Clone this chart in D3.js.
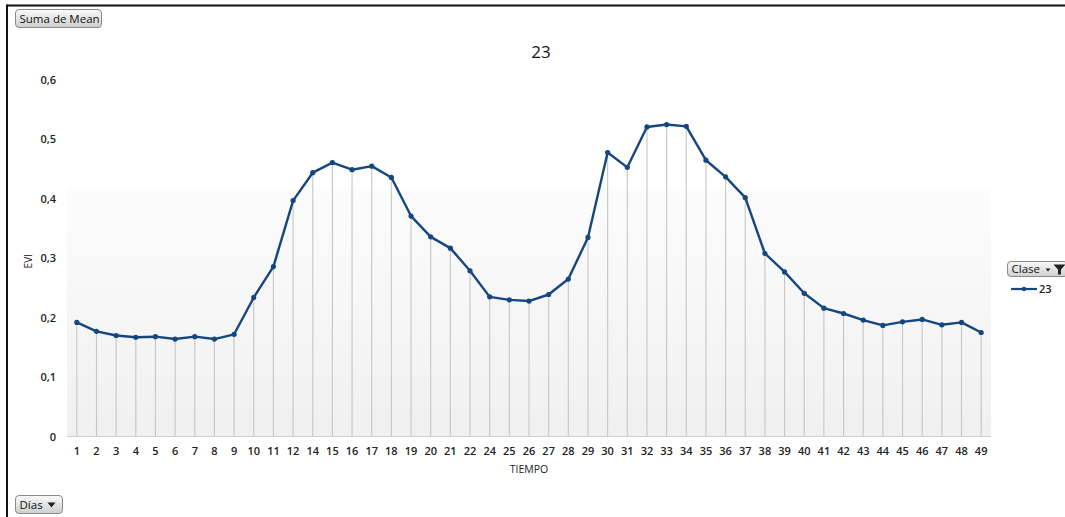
<!DOCTYPE html>
<html>
<head>
<meta charset="utf-8">
<script src="https://cdn.jsdelivr.net/npm/d3@7"></script>
<style>
  html, body { margin: 0; padding: 0; background: #fff; }
  svg { display: block; }
  text { font-family: "Open Sans", "Liberation Sans", sans-serif; }
</style>
</head>
<body>
<svg id="chart" width="1065" height="517"></svg>
<script>
// Days sampled (13 and 23 are absent from the series)
const dias = [1,2,3,4,5,6,7,8,9,10,11,12,14,15,16,17,18,19,20,21,22,24,25,26,27,28,29,30,31,32,33,34,35,36,37,38,39,40,41,42,43,44,45,46,47,48,49];
// Mean EVI for class 23
const evi = [0.192,0.177,0.170,0.167,0.168,0.164,0.168,0.164,0.172,0.234,0.286,0.397,0.444,0.461,0.449,0.455,0.436,0.371,0.336,0.317,0.279,0.235,0.230,0.228,0.239,0.265,0.335,0.478,0.453,0.521,0.525,0.522,0.465,0.437,0.402,0.308,0.277,0.241,0.216,0.207,0.196,0.187,0.193,0.197,0.188,0.192,0.175];
const yTicks = [0, 0.1, 0.2, 0.3, 0.4, 0.5, 0.6];
const serie = "23";

const svg = d3.select("#chart");
const W = 1065, H = 517;
const lineColor = "#16467f";

// frame
svg.append("line").attr("x1", 7).attr("x2", 1065).attr("y1", 5.5).attr("y2", 5.5)
  .attr("stroke", "#111").attr("stroke-width", 2);
svg.append("line").attr("x1", 7).attr("x2", 7).attr("y1", 4.5).attr("y2", H)
  .attr("stroke", "#111").attr("stroke-width", 2);

const plot = { left: 67, right: 991, top: 80, bottom: 436.5 };

const x = d3.scaleBand().domain(dias).range([plot.left, plot.right]).paddingInner(0).paddingOuter(0);
const y = d3.scaleLinear().domain([0, 0.6]).range([plot.bottom, plot.top]);

// plot-area background gradient
const defs = svg.append("defs");
const bg = defs.append("linearGradient").attr("id", "bg").attr("x1", 0).attr("x2", 0).attr("y1", 0).attr("y2", 1);
bg.append("stop").attr("offset", "0%").attr("stop-color", "#ffffff");
bg.append("stop").attr("offset", "30%").attr("stop-color", "#ffffff");
bg.append("stop").attr("offset", "31%").attr("stop-color", "#fcfcfc");
bg.append("stop").attr("offset", "100%").attr("stop-color", "#f0f0f0");
svg.append("rect").attr("x", plot.left).attr("y", plot.top)
  .attr("width", plot.right - plot.left).attr("height", plot.bottom - plot.top)
  .attr("fill", "url(#bg)");

// button gradient
const bt = defs.append("linearGradient").attr("id", "btn").attr("x1", 0).attr("x2", 0).attr("y1", 0).attr("y2", 1);
bt.append("stop").attr("offset", "0%").attr("stop-color", "#fafafa");
bt.append("stop").attr("offset", "50%").attr("stop-color", "#e4e4e4");
bt.append("stop").attr("offset", "100%").attr("stop-color", "#cfcfcf");

function button(x0, y0, w, h, label, arrow, filter) {
  const g = svg.append("g");
  g.append("rect").attr("x", x0).attr("y", y0).attr("width", w).attr("height", h)
    .attr("rx", 3.5).attr("fill", "url(#btn)").attr("stroke", "#8a8a8a").attr("stroke-width", 1);
  g.append("text").attr("x", x0 + 4).attr("y", y0 + h / 2 + 4)
    .attr("font-size", 11.5).attr("fill", "#111").attr("font-family", "'Open Sans', sans-serif")
    .text(label);
  if (arrow) {
    const ax = x0 + w - 11, ay = y0 + h / 2 - 2;
    g.append("path").attr("d", `M${ax - 4},${ay} L${ax + 4},${ay} L${ax},${ay + 5} Z`).attr("fill", "#222");
  }
  if (filter) {
    const fx = x0 + w - 8, fy = y0 + 3;
    g.append("path").attr("d", `M${fx - 6},${fy} L${fx + 6},${fy} L${fx + 1.5},${fy + 5} L${fx + 1.5},${fy + 10} L${fx - 1.5},${fy + 10} L${fx - 1.5},${fy + 5} Z`).attr("fill", "#222");
    g.append("path").attr("d", `M${fx - 14},${fy + 4} L${fx - 9},${fy + 4} L${fx - 11.5},${fy + 7} Z`).attr("fill", "#222");
  }
}
button(15.5, 9.5, 86, 18, "Suma de Mean", false, false);
button(15.5, 495.5, 47, 18, "Días", true, false);
button(1007.5, 261.5, 60, 15, "Clase", false, true);

// title
svg.append("text").attr("x", 541).attr("y", 58).attr("text-anchor", "middle")
  .attr("font-size", 17).attr("fill", "#111").text(serie);

// y tick labels
svg.append("g").selectAll("text").data(yTicks).join("text")
  .attr("x", 56).attr("y", d => y(d) + 4).attr("text-anchor", "end")
  .attr("font-size", 11).attr("font-weight", 600).attr("fill", "#222")
  .text(d => d3.format(".1f")(d).replace(".", ",").replace(/^0,0$/, "0"));

// y axis title
svg.append("text").attr("transform", `translate(32,${(plot.top + plot.bottom) / 2 + 3}) rotate(-90)`)
  .attr("text-anchor", "middle").attr("font-size", 10).attr("fill", "#222").text("EVI");

// drop lines
const cx = d => x(d) + x.bandwidth() / 2;
svg.append("g").selectAll("line").data(dias).join("line")
  .attr("x1", (d) => cx(d)).attr("x2", (d) => cx(d))
  .attr("y1", (d, i) => y(evi[i])).attr("y2", plot.bottom)
  .attr("stroke", "#c6c6c6").attr("stroke-width", 1.1);

// x axis baseline
svg.append("line").attr("x1", plot.left).attr("x2", plot.right)
  .attr("y1", plot.bottom).attr("y2", plot.bottom)
  .attr("stroke", "#cfcfcf").attr("stroke-width", 1.2);

// x tick labels
svg.append("g").selectAll("text").data(dias).join("text")
  .attr("x", d => cx(d)).attr("y", 455).attr("text-anchor", "middle")
  .attr("font-size", 11).attr("font-weight", 600).attr("fill", "#222")
  .text(d => d);

// x axis title
svg.append("text").attr("x", 529).attr("y", 473).attr("text-anchor", "middle")
  .attr("font-size", 10.5).attr("fill", "#222").text("TIEMPO");

// series line + markers
const pts = dias.map((d, i) => [cx(d), y(evi[i])]);
svg.append("path").attr("d", d3.line()(pts))
  .attr("fill", "none").attr("stroke", lineColor).attr("stroke-width", 2.4)
  .attr("stroke-linejoin", "round");
svg.append("g").selectAll("circle").data(pts).join("circle")
  .attr("cx", d => d[0]).attr("cy", d => d[1]).attr("r", 2.6).attr("fill", lineColor);

// legend entry
svg.append("line").attr("x1", 1011).attr("x2", 1037).attr("y1", 289).attr("y2", 289)
  .attr("stroke", lineColor).attr("stroke-width", 2.2);
svg.append("circle").attr("cx", 1024).attr("cy", 289).attr("r", 2.2).attr("fill", lineColor);
svg.append("text").attr("x", 1039).attr("y", 293).attr("font-size", 11)
  .attr("font-weight", 600).attr("fill", "#222").text(serie);
</script>
</body>
</html>
